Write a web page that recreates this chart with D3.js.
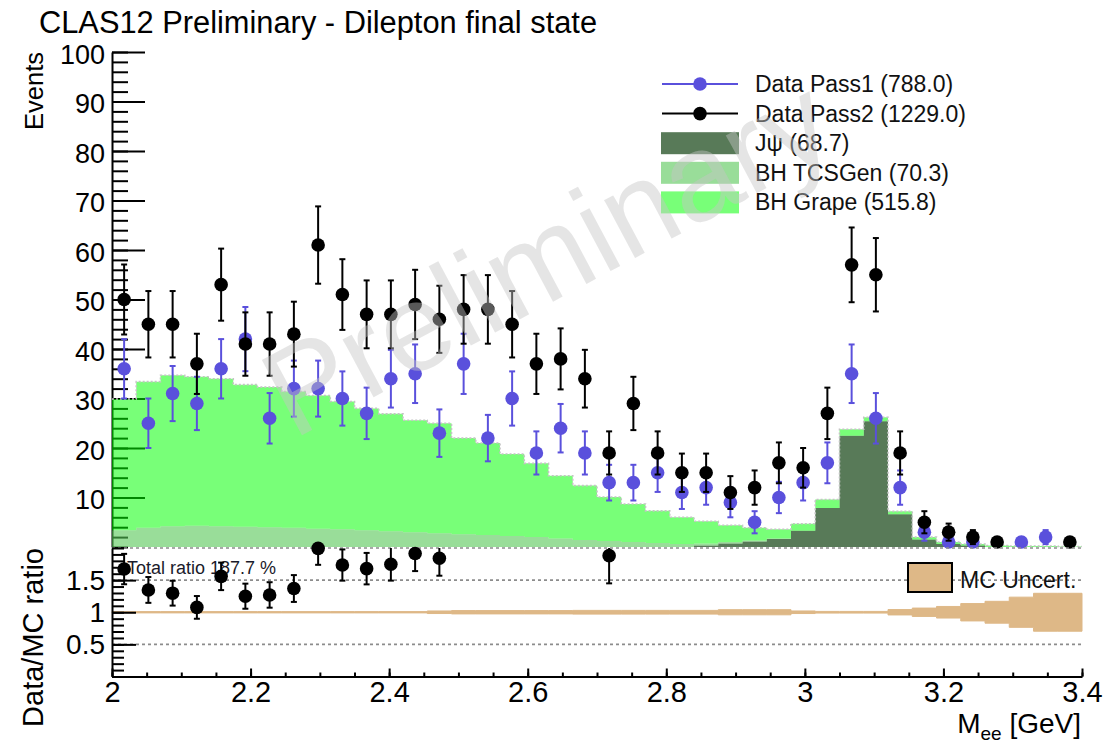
<!DOCTYPE html>
<html>
<head>
<meta charset="utf-8">
<script src="https://cdn.jsdelivr.net/npm/d3@7"></script>
<style>
  body { margin: 0; background: #fff; }
  svg { display: block; font-family: "Liberation Sans", Arial, sans-serif; }
</style>
</head>
<body>
<svg id="chart" width="1107" height="743"></svg>
<script>
// bin edges of the M_ee histogram [GeV]
const binEdges = [2.000, 2.035, 2.070, 2.105, 2.140, 2.175, 2.210, 2.245, 2.280, 2.315,
  2.350, 2.385, 2.420, 2.455, 2.490, 2.525, 2.560, 2.595, 2.630, 2.665,
  2.700, 2.735, 2.770, 2.805, 2.840, 2.875, 2.910, 2.945, 2.980, 3.015,
  3.050, 3.085, 3.120, 3.155, 3.190, 3.225, 3.260, 3.295, 3.330, 3.365, 3.400];

const pass1 = [36, 25, 31, 29, 36, 42, 26, 32, 32, 30, 27, 34, 35, 23, 37, 22, 30, 19, 24, 19,
  13, 13, 15, 11, 12, 9, 5, 10, 13, 17, 35, 26, 12, 3, 1, 1, 0, 1, 2, 0];
const pass2 = [50, 45, 45, 37, 53, 41, 41, 43, 61, 51, 47, 47, 49, 46, 48, 48, 45, 37, 38, 34,
  19, 29, 19, 15, 15, 11, 12, 17, 16, 27, 57, 55, 19, 5, 3, 2, 1, 0, 0, 1];

// MC components (stacked bottom -> top: jpsi, tcsGen, grape)
const jpsi = [0, 0, 0, 0, 0, 0, 0, 0, 0, 0, 0, 0, 0, 0, 0, 0, 0, 0, 0, 0,
  0, 0, 0, 0, 0.3, 0.7, 1.1, 1.6, 3.3, 7.9, 22.5, 25.4, 6.6, 1.5, 0.6, 0.3, 0, 0, 0, 0];
const tcsGen = [3.4, 3.9, 4.2, 4.3, 4.2, 4.1, 4.0, 3.9, 3.7, 3.6, 3.4, 3.2, 3.0, 2.8, 2.6, 2.4, 2.2, 2.0, 1.7, 1.4,
  1.2, 1.0, 0.8, 0.6, 0.4, 0.3, 0.2, 0.1, 0, 0, 0, 0, 0, 0, 0, 0, 0, 0, 0, 0];
const grape = [26.5, 29.5, 30.5, 30.1, 29.8, 28.7, 28.3, 27.5, 26.9, 25.8, 24.6, 23.7, 22.6, 22.2, 19.4, 18.6, 16.6, 14.9, 12.7, 11.0,
  8.9, 7.7, 6.5, 5.4, 4.5, 3.4, 2.6, 1.9, 1.4, 1.7, 1.3, 0.8, 0.6, 0.5, 0.4, 0.3, 0.3, 0.2, 0.2, 0.1];

// relative MC uncertainty per bin (ratio band half width)
const mcRelErr = [0.01, 0.01, 0.01, 0.01, 0.01, 0.01, 0.01, 0.01, 0.01, 0.01, 0.01, 0.01, 0.01, 0.02,
  0.026, 0.026, 0.026, 0.026, 0.026, 0.029, 0.029, 0.029, 0.029, 0.029, 0.029,
  0.04, 0.04, 0.04, 0.02, 0.013, 0.013, 0.013, 0.042, 0.065, 0.09, 0.135, 0.17, 0.235, 0.295, 0.295];

const legendRows = [
  {label: 'Data Pass1 (788.0)', kind: 'pt', color: '#5a50dc'},
  {label: 'Data Pass2 (1229.0)', kind: 'pt', color: '#000'},
  {label: 'J\u03c8 (68.7)', kind: 'box', color: '#587a58', op: 1},
  {label: 'BH TCSGen (70.3)', kind: 'box', color: '#55c655', op: 0.6},
  {label: 'BH Grape (515.8)', kind: 'box', color: '#00ff00', op: 0.53}
];
const totalRatioLabel = 'Total ratio 187.7 %';
const xTicks = [2, 2.2, 2.4, 2.6, 2.8, 3, 3.2, 3.4];
const yTicks = [10, 20, 30, 40, 50, 60, 70, 80, 90, 100];
const ratioTicks = [0.5, 1, 1.5];

const svg = d3.select('#chart');
const x = d3.scaleLinear().domain([2, 3.4]).range([112, 1082]);
const y = d3.scaleLinear().domain([0, 100]).range([547, 52]);
const yr = d3.scaleLinear().domain([0, 2]).range([676.5, 548]);

const nb = pass2.length;
const rows = d3.range(nb).map(i => ({lo: binEdges[i], hi: binEdges[i + 1],
  jpsi: jpsi[i], tcs: tcsGen[i], grape: grape[i]}));
const mcTotal = rows.map(r => r.jpsi + r.tcs + r.grape);

function stepPts(vals0, vals1) {
  const p = rows.map((r, i) => ({x: r.lo, y0: vals0[i], y1: vals1[i]}));
  p.push({x: rows[nb - 1].hi, y0: vals0[nb - 1], y1: vals1[nb - 1]});
  return p;
}

// title
svg.append('text').attr('x', 39).attr('y', 33).attr('font-size', 30.8)
  .text('CLAS12 Preliminary - Dilepton final state');

// ---- upper panel axis
const gy = svg.append('g').attr('transform', 'translate(112,0)');
gy.call(d3.axisLeft(y).tickValues(d3.range(0, 101, 2)).tickSize(-16).tickSizeOuter(0).tickFormat(''));
gy.append('g').call(d3.axisLeft(y).tickValues(yTicks).tickSize(-33).tickSizeOuter(0).tickPadding(7))
  .call(g => g.select('.domain').remove());
gy.selectAll('line').attr('stroke-width', 2);
gy.selectAll('.domain').attr('stroke-width', 2);
gy.selectAll('text').attr('font-size', 27).attr('dy', '0.41em').attr('fill', '#000')
  .attr('font-family', 'Liberation Sans, Arial, sans-serif');

svg.append('text').attr('transform', 'translate(43,52) rotate(-90)')
  .attr('text-anchor', 'end').attr('font-size', 25.5).text('Events');

// ---- stacked MC
const area = d3.area().curve(d3.curveStepAfter)
  .x(p => x(p.x)).y0(p => y(p.y0)).y1(p => y(p.y1));
const stacked = d3.stack().keys(['jpsi', 'tcs', 'grape'])(rows);
const fills = {jpsi: ['#587a58', 1], tcs: ['#55c655', 0.6], grape: ['#00ff00', 0.53]};
stacked.forEach(s => {
  const pts = stepPts(s.map(d => d[0]), s.map(d => d[1]));
  svg.append('path').attr('d', area(pts))
    .attr('fill', fills[s.key][0]).attr('fill-opacity', fills[s.key][1]);
});
const topLine = d3.line().curve(d3.curveStepAfter).x(p => x(p.x)).y(p => y(p.y1));
svg.append('path').attr('d', topLine(stepPts(mcTotal, mcTotal)))
  .attr('fill', 'none').attr('stroke', '#c4c4c4').attr('stroke-width', 1.6)
  .attr('stroke-dasharray', '2,2');

// ---- data points
function drawData(vals, color, yScale, errs, clip) {
  const g = svg.append('g');
  vals.forEach((v, i) => {
    if (v == null) return;
    const cx = x((binEdges[i] + binEdges[i + 1]) / 2);
    let lo = v - errs[i], hi = v + errs[i];
    if (clip) { lo = Math.max(lo, clip[0]); hi = Math.min(hi, clip[1]); }
    g.append('line').attr('x1', cx).attr('x2', cx)
      .attr('y1', yScale(lo)).attr('y2', yScale(hi))
      .attr('stroke', color).attr('stroke-width', 2);
    [lo, hi].forEach(e => {
      if (clip && (e === clip[0] || e === clip[1])) return;
      g.append('line').attr('x1', cx - 3).attr('x2', cx + 3)
        .attr('y1', yScale(e)).attr('y2', yScale(e))
        .attr('stroke', color).attr('stroke-width', 2);
    });
    g.append('circle').attr('cx', cx).attr('cy', yScale(v)).attr('r', 6.8).attr('fill', color);
  });
}
drawData(pass1.map(v => v > 0 ? v : null), '#5a50dc', y, pass1.map(v => Math.sqrt(v)));
drawData(pass2.map(v => v > 0 ? v : null), '#000', y, pass2.map(v => Math.sqrt(v)));

// ---- legend
const lg = svg.append('g');
legendRows.forEach((r, i) => {
  const cy = 84 + i * 29.6;
  if (r.kind === 'pt') {
    lg.append('line').attr('x1', 662).attr('x2', 738).attr('y1', cy).attr('y2', cy)
      .attr('stroke', r.color).attr('stroke-width', 2);
    lg.append('circle').attr('cx', 700).attr('cy', cy).attr('r', 6.8).attr('fill', r.color);
  } else {
    lg.append('rect').attr('x', 661).attr('y', cy - 11).attr('width', 78).attr('height', 22)
      .attr('fill', r.color).attr('fill-opacity', r.op);
  }
  lg.append('text').attr('x', 755).attr('y', cy + 8).attr('font-size', 23).attr('fill', '#111')
    .text(r.label);
});

// ---- ratio panel
[0.5, 1.5, 2].forEach(v => {
  svg.append('line').attr('x1', 112).attr('x2', 1082).attr('y1', yr(v)).attr('y2', yr(v))
    .attr('stroke', '#8c8c8c').attr('stroke-width', 1.6).attr('stroke-dasharray', '3,3');
});
const band = stepPts(mcRelErr.map(e => 1 - e), mcRelErr.map(e => 1 + e));
svg.append('path').attr('d', d3.area().curve(d3.curveStepAfter)
  .x(p => x(p.x)).y0(p => yr(p.y0)).y1(p => yr(p.y1))(band))
  .attr('fill', '#deb887').attr('stroke', '#deb887').attr('stroke-width', 1);

const gr = svg.append('g').attr('transform', 'translate(112,0)');
gr.call(d3.axisLeft(yr).tickValues(d3.range(0, 2.001, 0.1)).tickSize(-12).tickSizeOuter(0).tickFormat(''));
gr.append('g').call(d3.axisLeft(yr).tickValues(ratioTicks).tickSize(-24).tickSizeOuter(0).tickPadding(7)
  .tickFormat(d3.format('~g'))).call(g => g.select('.domain').remove());
gr.selectAll('line').attr('stroke-width', 2);
gr.selectAll('.domain').attr('stroke-width', 2);
gr.selectAll('text').attr('font-size', 28).attr('fill', '#000').attr('font-family', 'Liberation Sans, Arial, sans-serif');

svg.append('text').attr('transform', 'translate(43,548) rotate(-90)')
  .attr('text-anchor', 'end').attr('font-size', 29).text('Data/MC ratio');

const gx = svg.append('g').attr('transform', 'translate(0,676.5)');
gx.call(d3.axisBottom(x).tickValues(d3.range(2, 3.401, 0.05)).tickSize(-4).tickSizeOuter(0).tickFormat(''));
gx.append('g').call(d3.axisBottom(x).tickValues(xTicks).tickSize(-8).tickSizeOuter(0).tickPadding(5)
  .tickFormat(d3.format('~g'))).call(g => g.select('.domain').remove());
gx.selectAll('line').attr('stroke-width', 2);
gx.selectAll('.domain').attr('stroke-width', 2);
gx.selectAll('text').attr('font-size', 29).attr('fill', '#000').attr('font-family', 'Liberation Sans, Arial, sans-serif');

const xt = svg.append('text').attr('x', 1081).attr('y', 733).attr('text-anchor', 'end').attr('font-size', 28);
xt.append('tspan').text('M');
xt.append('tspan').attr('font-size', 19).attr('dy', 7).text('ee');
xt.append('tspan').attr('dy', -7).text(' [GeV]');

svg.append('text').attr('x', 127).attr('y', 574).attr('font-size', 18).attr('fill', '#1a1a2a')
  .text(totalRatioLabel);

const ratio = pass2.map((v, i) => (v > 0 && mcTotal[i] > 0 && v / mcTotal[i] <= 2) ? v / mcTotal[i] : null);
const ratioErr = pass2.map((v, i) => mcTotal[i] > 0 ? Math.sqrt(v) / mcTotal[i] : 0);
drawData(ratio, '#000', yr, ratioErr, [0, 2]);

svg.append('rect').attr('x', 908).attr('y', 563).attr('width', 44).attr('height', 29)
  .attr('fill', '#deb887').attr('stroke', '#000').attr('stroke-width', 2);
svg.append('text').attr('x', 960).attr('y', 588).attr('font-size', 23).attr('fill', '#111').text('MC Uncert.');

// ---- watermark
svg.append('text').attr('transform', 'translate(293,440) rotate(-28)')
  .attr('font-size', 124).attr('fill', '#c5c5c5').attr('fill-opacity', 0.45)
  .text('Preliminary');
</script>
</body>
</html>
